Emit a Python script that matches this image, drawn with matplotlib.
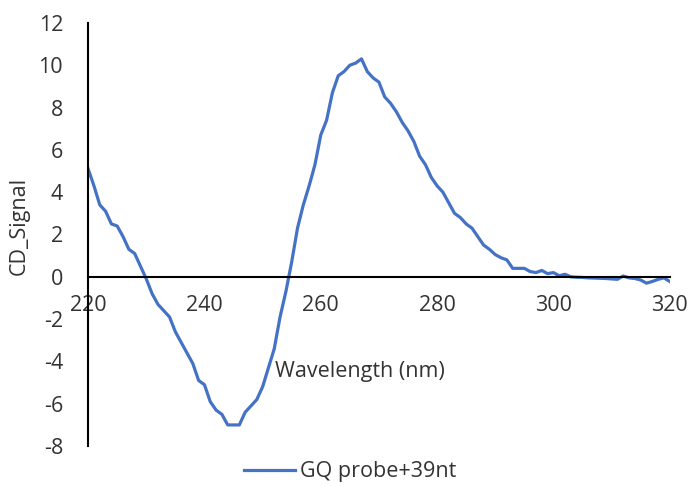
import numpy as np
import matplotlib.pyplot as plt

wavelength = np.arange(220, 321, 1)
cd_signal = [5.1, 4.3, 3.4, 3.1, 2.5, 2.4, 1.9, 1.3, 1.1, 0.5,
             -0.1, -0.8, -1.3, -1.6, -1.9, -2.6, -3.1, -3.6, -4.1, -4.9,
             -5.1, -5.9, -6.3, -6.5, -7.0, -7.0, -7.0, -6.4, -6.1, -5.8,
             -5.2, -4.3, -3.4, -1.9, -0.7, 0.7, 2.3, 3.4, 4.3, 5.3,
             6.7, 7.4, 8.7, 9.5, 9.7, 10.0, 10.1, 10.3, 9.7, 9.4,
             9.2, 8.5, 8.2, 7.8, 7.3, 6.9, 6.4, 5.7, 5.3, 4.7,
             4.3, 4.0, 3.5, 3.0, 2.8, 2.5, 2.3, 1.9, 1.5, 1.3,
             1.05, 0.9, 0.8, 0.4, 0.4, 0.4, 0.25, 0.2, 0.3, 0.15,
             0.2, 0.05, 0.12, 0.0, -0.02, -0.03, -0.05, -0.06, -0.07, -0.08,
             -0.1, -0.12, 0.04, -0.05, -0.08, -0.15, -0.3, -0.22, -0.12, -0.05,
             -0.22]
xticks = [220, 240, 260, 280, 300, 320]
yticks = [-8, -6, -4, -2, 0, 2, 4, 6, 8, 10, 12]

plt.rcParams['font.family'] = ['Open Sans', 'DejaVu Sans']
plt.rcParams['axes.unicode_minus'] = False

fs = 15.5
txt = '#333333'

fig = plt.figure(figsize=(6.94, 4.87), dpi=100)
ax = fig.add_axes([0.127, 0.084, 0.838, 0.869])

ax.plot(wavelength, cd_signal, color='#4472C4', lw=2.3, label='GQ probe+39nt')

ax.set_xlim(220, 320)
ax.set_ylim(-8, 12)
ax.set_xticks(xticks)
ax.set_yticks(yticks)

ax.spines['top'].set_visible(False)
ax.spines['right'].set_visible(False)
ax.spines['bottom'].set_position(('data', 0))
ax.spines['bottom'].set_linewidth(1.5)
ax.spines['left'].set_linewidth(1.5)
ax.tick_params(axis='both', length=0, labelsize=fs, colors=txt)
ax.tick_params(axis='x', pad=13)
ax.tick_params(axis='y', pad=18)

ax.set_xlabel('Wavelength (nm)', fontsize=fs, color=txt)
ax.xaxis.set_label_coords(0.467, 0.2)
ax.set_ylabel('CD_Signal', fontsize=fs, color=txt)
ax.yaxis.set_label_coords(-0.1, 0.52)

fig.legend(loc='center', bbox_to_anchor=(0.504, 0.031), frameon=False,
           fontsize=fs, handlelength=2.4, handletextpad=0.2, labelcolor=txt)

fig.savefig('out.png', dpi=100)
